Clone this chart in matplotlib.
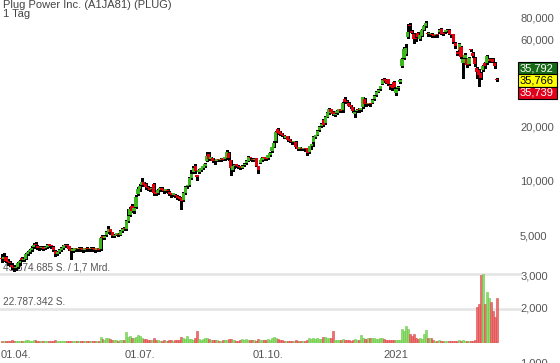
import matplotlib
matplotlib.use('Agg')
import matplotlib.pyplot as plt
import numpy as np
from matplotlib.patches import Rectangle
from matplotlib.transforms import IdentityTransform
from matplotlib.ticker import NullLocator

plt.rcParams['font.family'] = ['Liberation Sans', 'DejaVu Sans']

title = 'Plug Power Inc. (A1JA81) (PLUG)'
subtitle = '1 Tag'

# daily candles, EUR (index 0 = 23.03.2020 ... 251 = 15.03.2021)
opens = [
    3.75, 3.70, 3.78, 3.62, 3.55, 3.45, 3.35, 3.30, 3.35, 3.52,
    3.75, 3.65, 3.72, 3.95, 4.05, 4.15, 4.30, 4.50, 4.38, 4.28,
    4.25, 4.30, 4.25, 4.32, 4.42, 4.38, 4.30, 4.10, 3.95, 4.05,
    4.15, 4.25, 4.35, 4.42, 4.35, 4.20, 4.12, 4.15, 4.20, 4.18,
    4.22, 4.20, 4.15, 4.25, 4.20, 4.18, 4.22, 4.20, 4.15, 4.18,
    4.20, 4.95, 4.85, 5.00, 5.20, 5.40, 5.20, 4.95, 5.05, 5.10,
    5.05, 5.30, 5.45, 5.40, 6.00, 6.50, 7.30, 6.80, 7.20, 8.50,
    9.00, 9.50, 9.80, 9.60, 9.20, 9.10, 9.00, 9.60, 8.60, 8.60,
    8.90, 9.10, 8.95, 8.80, 8.90, 8.70, 8.50, 8.35, 8.40, 8.20,
    8.10, 8.00, 7.80, 8.60, 9.30, 9.50, 10.30, 11.20, 12.10, 10.55,
    11.20, 11.50, 11.70, 12.00, 12.90, 14.10, 13.20, 13.30, 12.90, 12.90,
    13.10, 13.00, 13.20, 13.20, 13.30, 14.20, 13.00, 11.40, 12.00, 12.30,
    12.10, 11.90, 11.80, 12.20, 12.50, 12.90, 13.50, 13.20, 13.00, 13.30,
    12.00, 12.60, 13.00, 13.40, 13.30, 13.30, 13.80, 14.60, 15.40, 16.50,
    19.20, 18.80, 18.20, 17.80, 17.30, 17.60, 16.90, 16.50, 16.30, 16.40,
    15.20, 15.00, 15.10, 14.90, 15.00, 15.10, 14.40, 15.50, 16.40, 17.50,
    17.90, 19.00, 20.00, 21.50, 20.80, 22.60, 23.60, 24.80, 24.00, 23.00,
    23.50, 24.30, 24.60, 24.50, 28.20, 27.50, 27.00, 26.00, 25.50, 23.30,
    24.20, 24.80, 24.60, 25.50, 28.30, 26.60, 26.40, 26.70, 27.00, 28.20,
    29.60, 31.00, 32.00, 34.20, 36.30, 36.00, 36.20, 33.80, 32.70, 35.20,
    30.40, 32.40, 35.20, 43.00, 47.80, 50.20, 62.20, 71.50, 66.20, 64.80,
    61.00, 65.20, 60.50, 62.80, 68.00, 71.00, 65.20, 64.30, 64.80, 63.80,
    63.30, 63.80, 66.20, 69.00, 65.30, 66.20, 66.70, 68.10, 63.80, 64.30,
    57.50, 51.20, 52.60, 54.50, 44.90, 47.80, 46.80, 43.90, 52.60, 50.70,
    47.80, 42.00, 41.00, 39.10, 41.00, 44.90, 44.90, 45.80, 46.80, 46.80,
    44.90, 36.30,
]
closes = [
    3.70, 3.78, 3.62, 3.55, 3.50, 3.35, 3.30, 3.32, 3.52, 3.60,
    3.65, 3.70, 3.95, 4.05, 4.15, 4.25, 4.45, 4.40, 4.28, 4.25,
    4.30, 4.22, 4.30, 4.42, 4.38, 4.35, 4.15, 3.95, 4.05, 4.15,
    4.25, 4.35, 4.40, 4.35, 4.22, 4.12, 4.15, 4.20, 4.18, 4.22,
    4.20, 4.15, 4.20, 4.20, 4.18, 4.22, 4.20, 4.15, 4.18, 4.15,
    4.85, 4.85, 4.95, 5.20, 5.45, 5.20, 4.95, 5.05, 5.10, 5.00,
    5.30, 5.45, 5.40, 6.00, 6.40, 7.00, 6.80, 7.10, 8.10, 9.00,
    9.40, 9.90, 9.50, 9.20, 9.10, 8.95, 9.10, 8.60, 8.50, 8.90,
    9.10, 8.95, 8.80, 8.90, 8.75, 8.50, 8.35, 8.45, 8.20, 8.05,
    7.95, 7.75, 8.60, 9.25, 9.35, 10.30, 10.90, 11.80, 11.30, 10.50,
    11.50, 11.70, 12.00, 12.40, 13.70, 13.20, 13.40, 12.90, 12.80, 13.10,
    13.00, 13.20, 13.10, 13.30, 14.50, 13.30, 11.80, 12.00, 12.20, 12.10,
    11.90, 11.80, 12.10, 12.40, 12.90, 13.50, 13.30, 13.00, 13.20, 12.10,
    11.50, 13.00, 13.40, 13.30, 13.20, 13.80, 14.30, 15.30, 16.20, 18.50,
    18.40, 18.20, 17.90, 17.60, 17.60, 16.80, 16.60, 16.30, 16.40, 15.30,
    15.00, 15.10, 14.90, 15.00, 14.90, 14.20, 15.50, 15.90, 17.50, 17.70,
    18.90, 19.80, 20.50, 20.30, 22.50, 23.50, 24.80, 24.00, 23.30, 23.40,
    24.30, 24.60, 24.30, 27.00, 27.30, 27.10, 26.00, 25.50, 24.30, 24.00,
    24.70, 24.50, 25.00, 28.80, 26.60, 26.40, 26.70, 26.40, 27.80, 29.50,
    31.00, 31.80, 33.20, 35.80, 35.50, 34.70, 34.20, 32.80, 32.30, 32.80,
    32.10, 32.90, 35.40, 47.20, 53.50, 54.00, 66.00, 71.10, 65.60, 60.90,
    60.40, 62.30, 63.80, 68.00, 71.00, 73.70, 64.30, 64.80, 63.30, 63.10,
    63.80, 63.30, 68.00, 64.80, 64.30, 67.10, 67.30, 64.80, 63.30, 58.50,
    55.60, 50.20, 56.50, 48.30, 46.80, 49.70, 43.40, 47.80, 52.30, 48.80,
    43.90, 40.00, 38.10, 37.10, 42.90, 42.90, 48.80, 46.30, 45.80, 45.40,
    42.90, 35.80,
]
highs = [
    3.95, 4.00, 3.85, 3.70, 3.60, 3.50, 3.42, 3.40, 3.58, 3.65,
    3.80, 3.76, 4.00, 4.10, 4.22, 4.35, 4.55, 4.60, 4.45, 4.35,
    4.38, 4.35, 4.38, 4.48, 4.50, 4.45, 4.35, 4.15, 4.10, 4.20,
    4.30, 4.40, 4.48, 4.50, 4.38, 4.25, 4.20, 4.25, 4.28, 4.30,
    4.30, 4.25, 4.28, 4.32, 4.28, 4.30, 4.30, 4.25, 4.25, 4.25,
    4.90, 5.05, 5.00, 5.30, 5.60, 5.45, 5.25, 5.10, 5.15, 5.15,
    5.35, 5.50, 5.55, 6.10, 6.95, 7.20, 7.40, 7.20, 8.30, 9.20,
    9.60, 10.30, 9.90, 9.70, 9.30, 9.20, 9.20, 9.70, 8.70, 9.00,
    9.20, 9.20, 9.00, 9.00, 9.00, 8.80, 8.55, 8.55, 8.50, 8.30,
    8.20, 8.10, 8.70, 9.35, 9.50, 10.50, 11.40, 12.00, 12.40, 10.80,
    11.60, 11.80, 12.10, 12.50, 14.50, 14.40, 13.50, 13.40, 13.00, 13.20,
    13.20, 13.30, 13.40, 13.50, 14.70, 14.40, 13.10, 12.10, 12.40, 12.40,
    12.20, 12.00, 12.20, 12.50, 13.00, 13.70, 13.60, 13.30, 13.40, 13.40,
    12.10, 13.10, 13.50, 13.50, 13.40, 13.90, 14.40, 15.40, 16.50, 18.70,
    19.50, 18.90, 18.30, 17.90, 17.70, 17.70, 17.00, 16.60, 16.60, 16.50,
    15.30, 15.30, 15.20, 15.20, 15.10, 15.20, 15.60, 16.00, 17.60, 17.90,
    19.00, 20.00, 20.80, 22.00, 22.80, 23.80, 25.20, 25.00, 24.20, 23.60,
    24.50, 24.90, 24.80, 27.30, 28.80, 27.80, 27.20, 26.20, 25.60, 24.30,
    25.00, 25.10, 25.30, 29.10, 28.60, 27.00, 27.00, 26.90, 28.10, 29.80,
    31.40, 32.20, 33.50, 36.30, 37.00, 36.30, 36.60, 34.00, 33.00, 35.70,
    32.50, 33.30, 36.20, 47.70, 55.00, 56.50, 73.00, 74.00, 67.70, 65.30,
    62.00, 66.20, 64.80, 69.00, 72.00, 76.20, 66.20, 65.70, 65.30, 64.80,
    64.80, 64.80, 69.00, 70.00, 66.20, 68.10, 68.60, 68.60, 64.30, 64.80,
    58.00, 52.10, 57.50, 55.50, 47.80, 50.70, 47.30, 48.30, 53.50, 51.20,
    48.30, 42.50, 41.50, 39.60, 43.40, 45.40, 49.70, 47.30, 47.30, 47.30,
    45.40, 36.80,
]
lows = [
    3.55, 3.60, 3.55, 3.45, 3.40, 3.25, 3.20, 3.22, 3.30, 3.45,
    3.60, 3.60, 3.68, 3.90, 3.98, 4.10, 4.25, 4.30, 4.20, 4.15,
    4.18, 4.15, 4.20, 4.28, 4.30, 4.28, 4.10, 3.85, 3.88, 4.00,
    4.10, 4.20, 4.30, 4.30, 4.15, 3.72, 4.05, 4.08, 4.10, 4.12,
    4.12, 4.05, 4.08, 4.12, 4.10, 4.10, 4.12, 4.05, 4.08, 4.08,
    4.15, 4.75, 4.80, 4.95, 5.15, 5.10, 4.90, 4.90, 5.00, 4.95,
    5.00, 5.25, 5.35, 5.35, 5.95, 6.40, 6.70, 6.60, 7.10, 8.30,
    8.80, 9.30, 9.30, 9.00, 8.90, 8.80, 8.85, 8.40, 8.30, 8.50,
    8.80, 8.80, 8.60, 8.70, 8.60, 8.30, 8.10, 8.20, 8.10, 7.90,
    7.80, 7.00, 7.70, 8.50, 9.10, 9.40, 10.20, 11.00, 11.10, 10.10,
    11.00, 11.30, 11.60, 11.90, 12.80, 13.00, 13.00, 12.70, 12.40, 12.80,
    12.90, 12.90, 13.00, 13.00, 13.20, 13.10, 10.70, 11.30, 11.80, 11.90,
    11.70, 11.60, 11.70, 12.00, 12.40, 12.80, 13.00, 12.80, 12.90, 12.00,
    11.00, 12.50, 12.90, 13.10, 13.00, 13.20, 13.70, 14.50, 15.30, 16.40,
    18.20, 17.90, 17.60, 17.30, 17.20, 16.60, 16.40, 16.00, 16.10, 15.10,
    14.80, 14.80, 14.70, 14.70, 14.60, 13.90, 14.30, 15.00, 15.50, 17.20,
    17.80, 18.90, 19.80, 20.00, 20.60, 22.40, 23.40, 23.60, 23.00, 22.70,
    23.30, 24.00, 24.00, 23.90, 26.90, 26.80, 25.70, 25.10, 24.00, 22.40,
    23.80, 24.10, 24.30, 25.30, 26.30, 26.00, 26.10, 26.00, 26.80, 28.00,
    29.40, 30.90, 31.80, 34.00, 35.20, 34.50, 33.90, 32.10, 31.80, 31.80,
    29.90, 31.70, 34.80, 42.50, 46.90, 49.40, 61.60, 66.50, 65.00, 57.70,
    59.20, 61.60, 59.70, 62.60, 68.00, 70.90, 63.10, 63.10, 62.10, 62.10,
    62.10, 62.10, 65.50, 64.50, 63.60, 65.50, 66.00, 64.10, 62.10, 57.70,
    54.30, 49.40, 51.80, 47.40, 37.10, 46.90, 42.50, 43.50, 51.80, 47.90,
    43.00, 37.10, 33.20, 36.20, 40.10, 42.00, 44.00, 45.00, 45.40, 45.00,
    42.00, 35.40,
]
# volume in million shares
volumes = [
    1.5, 1.2, 1.0, 1.2, 1.5, 1.8, 1.2, 1.0, 1.3, 1.6,
    1.4, 1.2, 1.8, 2.0, 1.5, 1.2, 2.2, 1.8, 1.4, 1.2,
    1.0, 1.1, 1.3, 1.5, 1.2, 1.0, 1.4, 1.8, 1.5, 1.2,
    1.3, 1.6, 1.4, 1.2, 1.3, 1.5, 1.1, 1.0, 1.2, 1.3,
    1.1, 1.0, 1.2, 1.4, 1.3, 1.1, 1.0, 1.2, 1.3, 1.5,
    3.8, 2.5, 2.0, 3.0, 3.5, 2.8, 2.2, 1.8, 2.0, 1.6,
    1.8, 2.0, 1.7, 7.0, 4.0, 4.5, 3.5, 3.0, 4.0, 5.0,
    4.5, 3.5, 2.8, 2.5, 2.0, 2.2, 1.8, 3.5, 2.2, 1.8,
    1.6, 1.5, 1.8, 1.4, 1.6, 1.8, 2.0, 1.5, 1.8, 2.2,
    2.0, 3.8, 3.0, 2.5, 4.8, 2.7, 2.5, 2.2, 3.0, 7.8,
    2.5, 2.0, 2.8, 3.3, 3.0, 2.5, 2.2, 1.8, 2.0, 1.8,
    1.5, 1.6, 1.8, 2.2, 2.0, 2.8, 2.5, 2.2, 1.8, 1.6,
    1.5, 1.8, 2.5, 2.3, 2.6, 2.2, 2.0, 1.8, 2.0, 1.6,
    2.4, 2.0, 1.8, 2.0, 2.2, 2.5, 2.0, 3.5, 3.8, 3.0,
    2.5, 2.0, 1.8, 1.6, 1.5, 1.4, 1.6, 1.5, 1.3, 1.8,
    1.5, 1.4, 1.2, 1.5, 1.6, 2.2, 3.0, 2.8, 3.2, 2.5,
    3.0, 2.8, 2.5, 4.0, 4.2, 3.5, 3.0, 3.0, 8.0, 2.2,
    2.0, 1.8, 2.0, 2.8, 2.2, 2.0, 1.8, 1.6, 2.0, 2.4,
    2.0, 2.2, 5.0, 3.0, 2.8, 2.5, 3.2, 3.5, 3.5, 3.0,
    2.8, 2.5, 3.2, 3.5, 2.6, 2.2, 2.0, 2.2, 2.0, 1.8,
    2.0, 2.2, 2.0, 9.3, 7.8, 11.5, 9.0, 6.0, 4.5, 6.0,
    3.0, 2.8, 3.2, 2.6, 6.0, 8.9, 3.5, 3.0, 3.2, 1.8,
    1.6, 1.5, 1.8, 1.4, 1.5, 1.3, 1.6, 1.5, 1.2, 1.4,
    1.3, 1.6, 2.0, 1.5, 1.8, 1.3, 1.5, 1.4, 1.6, 1.3,
    1.8, 24.0, 25.7, 45.0, 46.0, 25.7, 33.7, 30.0, 27.0, 21.5,
    17.5, 29.6,
]

date_tick_pos = [7, 70, 135, 200]
date_tick_labels = ['01.04.', '01.07.', '01.10.', '2021']
price_ticks = [1, 2, 3, 5, 10, 20, 60, 80]
vol_grid = [45.874685, 22.787342]
vol_grid_labels = ['45.874.685 S. / 1,7 Mrd.', '22.787.342 S.']
quote_values = [35.792, 35.766, 35.739]
quote_labels = ['35,792', '35,766', '35,739']
quote_colors = ['#176b17', '#ffff00', '#e3001b']
quote_text = ['white', 'black', 'white']

W, H = 560, 363
fig = plt.figure(figsize=(W / 100, H / 100), dpi=100)

def fx(px):
    return px / W

def fy(py):
    return 1 - py / H

GREEN = '#3cb81e'
RED = '#e0000f'
xlim = (-1.02, 261.9)

# volume panel
vax = fig.add_axes([0, fy(343), fx(518), 83 / H])
vax.set_xlim(*xlim)
vax.set_ylim(0, 83 / 1.504)
idx = np.arange(len(closes))
o = np.array(opens)
c = np.array(closes)
up = c >= o
vcol = np.where(up, '#8edc6c', '#ee7070')
vedge = np.where(up, '#6cc84a', '#d84848')
vax.bar(idx, volumes, width=1.0, color=vcol, edgecolor=vedge, linewidth=0.4, zorder=2)
for v in vol_grid:
    vax.axhline(v, xmin=0, xmax=520 / 518, color='#e4e4e4', lw=1.8, clip_on=False, zorder=1)
for v, lab in zip(vol_grid, vol_grid_labels):
    vax.text(0.3, v + 0.9, lab, fontsize=7.2, color='#555555', ha='left', va='bottom', zorder=1)
for s in vax.spines.values():
    s.set_visible(False)
vax.set_yticks([])
vax.set_xticks(date_tick_pos)
vax.set_xticklabels(date_tick_labels)
vax.tick_params(axis='x', length=0, pad=5, labelsize=8, labelcolor='#555555')
vax.patch.set_alpha(0)

# price panel (log)
ax = fig.add_axes([0, 0, fx(518), 1])
ax.patch.set_alpha(0)
ax.set_yscale('log')
ax.set_ylim(0.9886, 99.3)
ax.set_xlim(*xlim)
h = np.array(highs)
l = np.array(lows)
ax.vlines(idx, l, h, color='black', lw=0.75, zorder=2, antialiased=False)
bot = np.minimum(o, c)
top = np.maximum(np.maximum(o, c), bot * 1.02)
ax.bar(idx, top - bot, bottom=bot, width=1.6, color=np.where(up, GREEN, RED),
       linewidth=0, zorder=3, antialiased=False)
for s in ax.spines.values():
    s.set_visible(False)
ax.set_xticks([])
ax.yaxis.tick_right()
ax.set_yticks(price_ticks)
ax.set_yticklabels([f'{t},000' for t in price_ticks])
ax.yaxis.set_minor_locator(NullLocator())
ax.tick_params(axis='y', length=0, pad=1.5, labelsize=8, labelcolor='#555555')

# quote boxes
yc = ax.transData.transform((0, quote_values[1]))[1]
bh = 12.3
for k, (lab, fc, tc) in enumerate(zip(quote_labels, quote_colors, quote_text)):
    ycen = yc + (1 - k) * bh
    fig.add_artist(Rectangle((518, ycen - bh / 2), 39, bh, transform=IdentityTransform(),
                             facecolor=fc, edgecolor='black', lw=0.8, zorder=5))
    fig.text(fx(520), ycen / H, lab, fontsize=8, color=tc, ha='left', va='center', zorder=6)

fig.text(fx(3), fy(0.5), title, fontsize=8, color='#444444', ha='left', va='top')
fig.text(fx(3), fy(9), subtitle, fontsize=8, color='#444444', ha='left', va='top')

fig.savefig('out.png', dpi=100)
